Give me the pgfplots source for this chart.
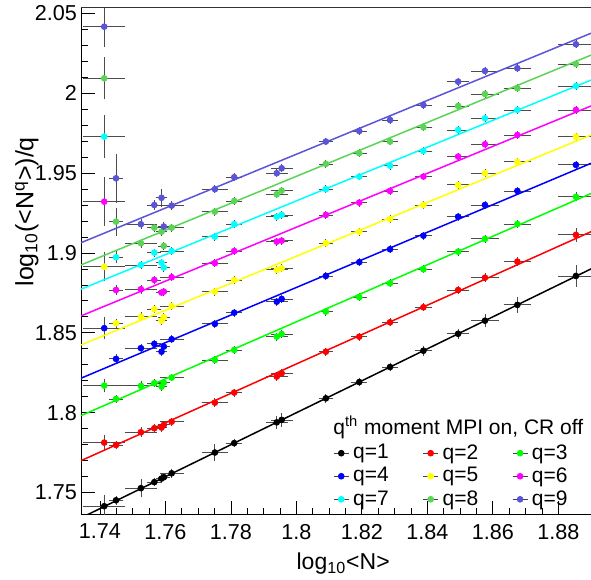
\documentclass[border=0pt]{standalone}
\usepackage{pgfplots}
\pgfplotsset{compat=1.18}
\usepackage{pgfplotstable}
\usepackage{fontspec}
\setmainfont{Liberation Sans}

\definecolor{rgreen}{RGB}{0,255,0}
\definecolor{ryellow}{RGB}{255,255,0}
\definecolor{rmag}{RGB}{255,0,255}
\definecolor{rcyan}{RGB}{0,255,255}
\definecolor{reight}{RGB}{89,212,84}
\definecolor{rnine}{RGB}{89,84,216}

\pgfplotstableread{
x      ex     y1     ey1    y2     ey2    y3     ey3    y4     ey4    y5     ey5    y6     ey6    y7     ey7    y8     ey8    y9     ey9
1.7413 0.0058 1.7415 0.0060 1.7813 0.0035 1.8170 0.0030 1.8529 0.0056 1.8914 0.0080 1.9321 0.0140 1.9728 0.0120 2.0093 0.0120 2.0416 0.0115
1.7449 0.0015 1.7452 0.0015 1.7798 0.0015 1.8086 0.0012 1.8337 0.0015 1.8560 0.0015 1.8768 0.0020 1.8973 0.0025 1.9196 0.0075 1.9467 0.0140
1.7525 0.0043 1.7528 0.0045 1.7878 0.0020 1.8168 0.0015 1.8404 0.0015 1.8601 0.0015 1.8773 0.0015 1.8925 0.0015 1.9061 0.0015 1.9180 0.0020
1.7566 0.0015 1.7566 0.0015 1.7903 0.0012 1.8185 0.0012 1.8431 0.0012 1.8648 0.0012 1.8831 0.0012 1.9002 0.0012 1.9158 0.0012 1.9300 0.0020
1.7588 0.0012 1.7588 0.0015 1.7907 0.0012 1.8163 0.0012 1.8382 0.0012 1.8576 0.0012 1.8752 0.0012 1.8939 0.0012 1.9133 0.0012 1.9345 0.0045
1.7595 0.0012 1.7597 0.0012 1.7924 0.0012 1.8188 0.0012 1.8414 0.0012 1.8598 0.0012 1.8758 0.0012 1.8908 0.0012 1.9044 0.0012 1.9165 0.0015
1.7619 0.0031 1.7621 0.0015 1.7944 0.0012 1.8220 0.0012 1.8460 0.0012 1.8668 0.0012 1.8848 0.0012 1.9012 0.0012 1.9158 0.0012 1.9296 0.0015
1.7751 0.0034 1.7751 0.0042 1.8063 0.0015 1.8330 0.0012 1.8556 0.0012 1.8758 0.0012 1.8936 0.0012 1.9102 0.0012 1.9258 0.0012 1.9399 0.0012
1.7810 0.0018 1.7810 0.0015 1.8126 0.0012 1.8393 0.0012 1.8626 0.0012 1.8831 0.0012 1.9012 0.0012 1.9180 0.0012 1.9325 0.0012 1.9474 0.0012
1.7940 0.0027 1.7940 0.0030 1.8226 0.0012 1.8476 0.0012 1.8695 0.0012 1.8894 0.0012 1.9071 0.0012 1.9227 0.0012 1.9367 0.0012 1.9499 0.0012
1.7955 0.0027 1.7955 0.0030 1.8247 0.0012 1.8493 0.0012 1.8712 0.0012 1.8904 0.0012 1.9077 0.0012 1.9238 0.0012 1.9390 0.0012 1.9530 0.0012
1.8090 0.0015 1.8090 0.0015 1.8382 0.0012 1.8633 0.0012 1.8856 0.0012 1.9061 0.0012 1.9238 0.0012 1.9399 0.0012 1.9557 0.0012 1.9697 0.0012
1.8192 0.0018 1.8192 0.0015 1.8476 0.0012 1.8723 0.0012 1.8942 0.0012 1.9133 0.0012 1.9315 0.0012 1.9478 0.0012 1.9624 0.0012 1.9763 0.0012
1.8286 0.0018 1.8286 0.0015 1.8566 0.0012 1.8810 0.0012 1.9023 0.0012 1.9212 0.0012 1.9388 0.0012 1.9546 0.0012 1.9697 0.0012 1.9832 0.0012
1.8388 0.0021 1.8388 0.0020 1.8660 0.0012 1.8898 0.0012 1.9108 0.0012 1.9300 0.0012 1.9478 0.0012 1.9638 0.0012 1.9787 0.0012 1.9926 0.0012
1.8494 0.0027 1.8494 0.0020 1.8768 0.0012 1.9008 0.0012 1.9227 0.0012 1.9426 0.0012 1.9603 0.0012 1.9770 0.0012 1.9920 0.0012 2.0072 0.0012
1.8576 0.0036 1.8576 0.0030 1.8845 0.0015 1.9088 0.0012 1.9300 0.0012 1.9499 0.0012 1.9680 0.0012 1.9843 0.0012 1.9995 0.0012 2.0139 0.0012
1.8675 0.0036 1.8675 0.0037 1.8946 0.0015 1.9181 0.0012 1.9388 0.0012 1.9571 0.0012 1.9738 0.0012 1.9895 0.0012 2.0031 0.0012 2.0156 0.0012
1.8854 0.0049 1.8856 0.0055 1.9113 0.0030 1.9351 0.0015 1.9551 0.0012 1.9728 0.0012 1.9895 0.0012 2.0045 0.0012 2.0183 0.0012 2.0306 0.0012
}\moments

\newcommand{\series}[2]{%
  \addplot[#2, only marks, mark=*, mark size=1.45pt,
    error bars/.cd, x dir=both, x explicit, y dir=both, y explicit,
    error bar style={black!70, line width=0.4pt},
    error mark options={black!70, mark size=1pt, line width=0.4pt}]
    table[x=x, y=y#1, x error=ex, y error=ey#1]{\moments};
  \addlegendentry{q=#1}
}

\begin{document}
\begin{tikzpicture}
\begin{axis}[
  name=ax, scale only axis, width=255pt, height=253.5pt,
  xmin=1.7342, xmax=1.89, ymin=1.736, ymax=2.0533,
  axis x line*=bottom, axis y line*=left,
  axis line style={-, black, line width=0.5pt},
  xtick={1.74,1.76,1.78,1.80,1.82,1.84,1.86,1.88},
  ytick={1.75,1.80,1.85,1.90,1.95,2.00,2.05},
  minor x tick num=3, minor y tick num=4,
  tick align=inside, major tick length=7pt, minor tick length=3.5pt,
  tick style={black, line width=0.4pt},
  ticklabel style={font=\fontsize{10.8}{12}\selectfont},
  yticklabel style={xshift=1.5pt},
  xticklabel style={yshift=-1pt},
  /pgf/number format/assume math mode=true,
  xlabel={log\textsubscript{10}<N>},
  xlabel style={font=\fontsize{11.5}{13}\selectfont, at={(axis description cs:0.514,-0.108)}, anchor=base},
  ylabel={log\textsubscript{10}(<N\textsuperscript{q}>)/q},
  ylabel style={font=\fontsize{12.5}{14}\selectfont, at={(axis description cs:-0.106,0.598)}, anchor=center, rotate=0},
  legend columns=3,
  legend cell align=left,
  legend style={at={(axis description cs:0.494,0.148)}, anchor=north west, draw=none, fill=none,
    font=\fontsize{10.5}{11}\selectfont, inner sep=0pt, row sep=-1.3pt,
    /tikz/every even column/.append style={column sep=15pt}},
  legend image code/.code={\draw[black!75, line width=0.4pt] (0pt,0pt) -- (7.5pt,0pt);
    \draw[mark repeat=2, mark phase=2, #1] plot coordinates {(0pt,0pt) (3.75pt,0pt) (7.5pt,0pt)};},
]
\series{1}{black}
\series{2}{red}
\series{3}{rgreen}
\series{4}{blue}
\series{5}{ryellow}
\series{6}{rmag}
\series{7}{rcyan}
\series{8}{reight}
\series{9}{rnine}
\addplot[black, line width=0.75pt, forget plot] coordinates {(1.7342,1.7342) (1.89,1.8900)};
\addplot[red, line width=0.75pt, forget plot] coordinates {(1.7342,1.7700) (1.89,1.9133)};
\addplot[rgreen, line width=0.75pt, forget plot] coordinates {(1.7342,1.7982) (1.89,1.9372)};
\addplot[blue, line width=0.75pt, forget plot] coordinates {(1.7342,1.8216) (1.89,1.9561)};
\addplot[ryellow, line width=0.75pt, forget plot] coordinates {(1.7342,1.8424) (1.89,1.9738)};
\addplot[rmag, line width=0.75pt, forget plot] coordinates {(1.7342,1.8606) (1.89,1.9920)};
\addplot[rcyan, line width=0.75pt, forget plot] coordinates {(1.7342,1.8773) (1.89,2.0082)};
\addplot[reight, line width=0.75pt, forget plot] coordinates {(1.7342,1.8925) (1.89,2.0238)};
\addplot[rnine, line width=0.75pt, forget plot] coordinates {(1.7342,1.9064) (1.89,2.0375)};
\node[anchor=west, inner sep=0pt, font=\fontsize{10.5}{12}\selectfont] at (axis description cs:0.494,0.172) {q\textsuperscript{th} moment MPI on, CR off};
\end{axis}
\draw[black!80, line width=0.5pt] (ax.north west) -- (ax.north east);
\pgfresetboundingbox
\path ([xshift=-40.5pt,yshift=-32.5pt]ax.south west) rectangle ([yshift=4pt]ax.north east);
\end{tikzpicture}
\end{document}
